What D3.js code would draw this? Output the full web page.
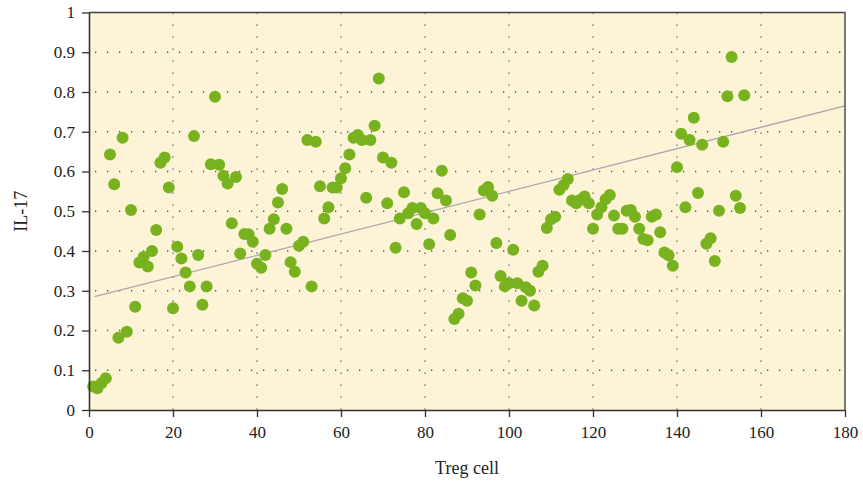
<!DOCTYPE html>
<html>
<head>
<meta charset="utf-8">
<script src="https://cdn.jsdelivr.net/npm/d3@7"></script>
<style>
  body { margin: 0; background: #fff; }
  svg { display: block; }
  text { font-family: "Liberation Serif", "DejaVu Serif", serif; fill: #222; }
</style>
</head>
<body>
<div id="chart"></div>
<script>
// Treg cell (x) vs IL-17 (y), one point per sample
const tregX = d3.range(1, 157);
const il17 = [
  0.059, 0.055, 0.068, 0.080, 0.643, 0.568, 0.182, 0.685, 0.197, 0.503,
  0.260, 0.371, 0.385, 0.361, 0.400, 0.453, 0.622, 0.635, 0.560, 0.256,
  0.411, 0.381, 0.346, 0.311, 0.689, 0.390, 0.265, 0.311, 0.618, 0.788,
  0.617, 0.589, 0.570, 0.470, 0.586, 0.394, 0.443, 0.442, 0.423, 0.368,
  0.358, 0.390, 0.456, 0.480, 0.522, 0.556, 0.456, 0.372, 0.348, 0.413,
  0.423, 0.679, 0.311, 0.675, 0.563, 0.482, 0.510, 0.560, 0.560, 0.583,
  0.608, 0.643, 0.685, 0.692, 0.679, 0.534, 0.679, 0.715, 0.834, 0.635,
  0.520, 0.622, 0.408, 0.482, 0.548, 0.495, 0.508, 0.468, 0.508, 0.495,
  0.417, 0.482, 0.545, 0.602, 0.527, 0.440, 0.229, 0.242, 0.281, 0.275,
  0.346, 0.313, 0.492, 0.552, 0.561, 0.539, 0.420, 0.337, 0.311, 0.319,
  0.403, 0.319, 0.275, 0.309, 0.300, 0.263, 0.348, 0.363, 0.458, 0.480,
  0.486, 0.554, 0.566, 0.581, 0.527, 0.520, 0.529, 0.537, 0.520, 0.456,
  0.492, 0.510, 0.530, 0.541, 0.489, 0.456, 0.456, 0.501, 0.503, 0.486,
  0.456, 0.430, 0.427, 0.486, 0.492, 0.447, 0.396, 0.389, 0.363, 0.611,
  0.695, 0.510, 0.679, 0.735, 0.546, 0.667, 0.418, 0.432, 0.375, 0.501,
  0.675, 0.789, 0.888, 0.539, 0.508, 0.792
];
// linear trend line end points
const trendX = [1.3, 180];
const trendY = [0.285, 0.765];

const xTicks = d3.range(0, 181, 20);
const yTicks = d3.range(0, 11).map(d => d / 10);

const W = 863, H = 483;
const margin = {top: 12.5, right: 18, bottom: 73, left: 89};

const svg = d3.select("#chart").append("svg")
  .attr("width", W).attr("height", H);

const x = d3.scaleLinear().domain([0, 180]).range([margin.left, W - margin.right]);
const y = d3.scaleLinear().domain([0, 1]).range([H - margin.bottom, margin.top]);

// plot background
svg.append("rect")
  .attr("x", x(0)).attr("y", y(1))
  .attr("width", x(180) - x(0)).attr("height", y(0) - y(1))
  .attr("fill", "#fdf4d8");

// dotted grid
const grid = svg.append("g")
  .attr("stroke", "#555").attr("stroke-width", 1.3)
  .attr("stroke-dasharray", "1.3,10.7");
grid.selectAll(".gy").data(yTicks.filter(d => d > 0 && d < 1)).enter().append("line")
  .attr("x1", x(0) + 6).attr("x2", x(180))
  .attr("y1", d => y(d)).attr("y2", d => y(d));
grid.selectAll(".gx").data(xTicks.filter(d => d > 0 && d < 180)).enter().append("line")
  .attr("x1", d => x(d)).attr("x2", d => x(d))
  .attr("y1", y(1)).attr("y2", y(0));

// trend line
svg.append("line")
  .attr("x1", x(trendX[0])).attr("y1", y(trendY[0]))
  .attr("x2", x(trendX[1])).attr("y2", y(trendY[1]))
  .attr("stroke", "#a9a9a9").attr("stroke-width", 1.3);

// points
svg.append("g").selectAll("circle")
  .data(tregX.map((d, i) => [d, il17[i]]))
  .enter().append("circle")
  .attr("cx", d => x(d[0]))
  .attr("cy", d => y(d[1]))
  .attr("r", 6)
  .attr("fill", "#78b31f");

// frame top / right
svg.append("path")
  .attr("d", `M${x(0)},${y(1)}H${x(180)}V${y(0)}`)
  .attr("fill", "none").attr("stroke", "#444").attr("stroke-width", 1.4);

// axes
const xAxis = svg.append("g")
  .attr("transform", `translate(0,${y(0)})`)
  .call(d3.axisBottom(x).tickValues(xTicks).tickSize(7).tickSizeOuter(0).tickPadding(9));
const yAxis = svg.append("g")
  .attr("transform", `translate(${x(0)},0)`)
  .call(d3.axisLeft(y).tickValues(yTicks).tickSize(7).tickSizeOuter(0).tickPadding(7)
    .tickFormat(d => d === 0 || d === 1 ? d3.format("d")(d) : d3.format(".1f")(d)));

[xAxis, yAxis].forEach(g => {
  g.select(".domain").attr("stroke", "#333").attr("stroke-width", 1.6);
  g.selectAll(".tick line").attr("stroke", "#333").attr("stroke-width", 1.3);
  g.selectAll(".tick text")
    .attr("font-family", "Liberation Serif, serif")
    .attr("font-size", 17).attr("fill", "#222");
});

// axis titles
svg.append("text")
  .attr("x", x(90)).attr("y", 474)
  .attr("text-anchor", "middle").attr("font-size", 18)
  .text("Treg cell");
svg.append("text")
  .attr("transform", `translate(27,${y(0.5)}) rotate(-90)`)
  .attr("text-anchor", "middle").attr("font-size", 18)
  .text("IL-17");
</script>
</body>
</html>
